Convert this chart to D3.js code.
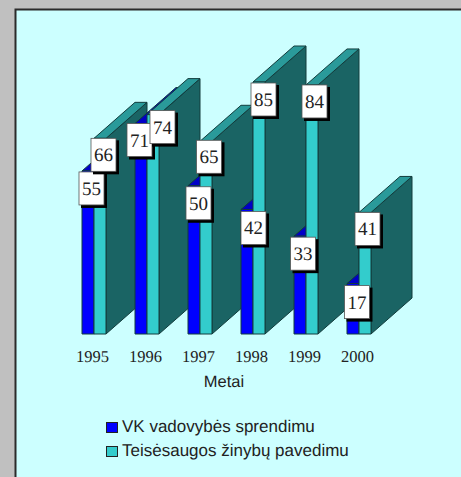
<!DOCTYPE html>
<html><head><meta charset="utf-8">
<style>html,body{margin:0;padding:0;background:#c0c0c0;overflow:hidden}svg{display:block}text{text-rendering:geometricPrecision}</style>
<script src="https://cdn.jsdelivr.net/npm/d3@7/dist/d3.min.js"></script>
</head><body><svg id="c" width="461" height="477"></svg>
<script>
const years = ["1995","1996","1997","1998","1999","2000"];
const vkValues = [55,71,50,42,33,17];
const teisValues = [66,74,65,85,84,41];
const seriesNames = ["VK vadovybės sprendimu","Teisėsaugos žinybų pavedimu"];
const axisTitle = "Metai";
// hand placement of the data labels relative to their bar (dx, dy)
const vkNudge = [[3.5,1],[-1.5,0],[4.5,1],[6.5,2],[3,1],[4,2]];
const teisNudge = [[3.5,0],[9.5,-4],[3,-1],[4.5,1],[2.5,0],[2.5,0]];

const svg = d3.select("#c");
svg.append("rect").attr("x",15.5).attr("y",9.5).attr("width",470).attr("height",490)
  .attr("fill","#ccffff").attr("stroke","#2b2b2b").attr("stroke-width",2);

const x = d3.scalePoint().domain(years).range([82,347]);
const y = d3.scaleLinear().domain([0,85]).range([334,82]);
const barW = 12, depthX = 41, depthY = -36;
const series = [
  {values:vkValues, off:0, front:"#0000ff", top:"#0000c8", side:"#000090", nudge:vkNudge},
  {values:teisValues, off:barW, front:"#33cccc", top:"#2a9a9a", side:"#1a6464", nudge:teisNudge}
];
const edge = "#123c3c";
const poly = pts => pts.map(p=>p.join(",")).join(" ");
const plot = svg.append("g");
years.forEach((yr,i)=>{
  series.forEach(s=>{
    const x0 = x(yr)+s.off, x1 = x0+barW, yt = y(s.values[i]), yb = y(0);
    const g = plot.append("g").attr("stroke",edge).attr("stroke-width",1).attr("stroke-linejoin","round");
    g.append("polygon").attr("points",poly([[x1,yb],[x1+depthX,yb+depthY],[x1+depthX,yt+depthY],[x1,yt]])).attr("fill",s.side);
    g.append("polygon").attr("points",poly([[x0,yt],[x0+depthX,yt+depthY],[x1+depthX,yt+depthY],[x1,yt]])).attr("fill",s.top);
    g.append("rect").attr("x",x0).attr("y",yt).attr("width",barW).attr("height",yb-yt).attr("fill",s.front);
  });
});
const labels = svg.append("g");
const boxW = 25, boxH = 33;
years.forEach((yr,i)=>{
  series.forEach(s=>{
    const cx = x(yr)+s.off+barW/2+s.nudge[i][0], top = y(s.values[i])+s.nudge[i][1];
    labels.append("rect").attr("x",cx-boxW/2+2).attr("y",top+2).attr("width",boxW+1).attr("height",boxH+1).attr("fill","#000");
    labels.append("rect").attr("x",cx-boxW/2).attr("y",top).attr("width",boxW).attr("height",boxH)
      .attr("fill","#fff").attr("stroke","#555").attr("stroke-width",0.8);
    labels.append("text").attr("x",cx).attr("y",top+23).attr("text-anchor","middle")
      .attr("font-family","'Liberation Serif',serif").attr("font-size",19).attr("fill","#222").text(s.values[i]);
  });
});
// year axis
const xAxis = d3.scalePoint().domain(years).range([92,357]);
const ax = svg.append("g").attr("transform","translate(0,346)").call(d3.axisBottom(xAxis).tickSize(0).tickPadding(0));
ax.select(".domain").remove();
ax.selectAll("text").attr("font-family","'Liberation Serif',serif").attr("font-size",16.5).attr("fill","#222").attr("y",0).attr("dy",16);
svg.append("text").attr("x",224).attr("y",387).attr("text-anchor","middle")
  .attr("font-family","'Liberation Sans',sans-serif").attr("font-size",16.5).attr("fill","#222").text(axisTitle);
// legend
const ly = d3.scalePoint().domain(seriesNames).range([432,456]);
seriesNames.forEach((n,i)=>{
  const b = ly(n);
  svg.append("rect").attr("x",106.5).attr("y",b-9.5).attr("width",11).attr("height",10)
    .attr("fill",series[i].front).attr("stroke","#222").attr("stroke-width",1);
  svg.append("text").attr("x",122).attr("y",b).attr("font-family","'Liberation Sans',sans-serif")
    .attr("font-size",17).attr("fill","#222").text(n);
});
</script></body></html>
